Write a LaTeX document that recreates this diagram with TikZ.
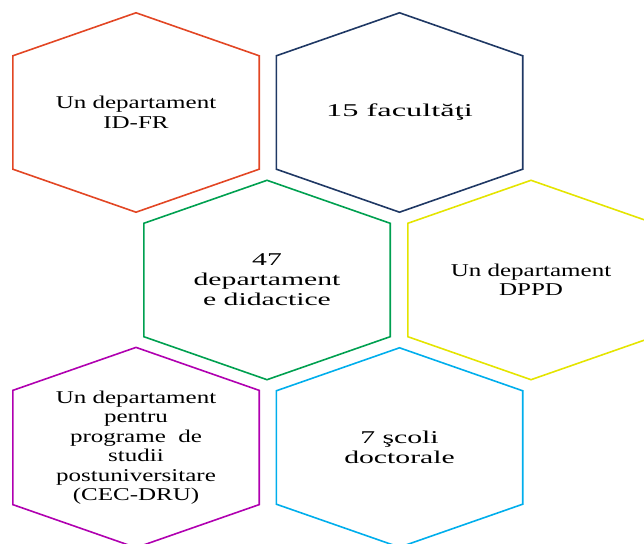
\documentclass[tikz,border=0pt]{standalone}
\usepackage{fontspec}
\setmainfont{Liberation Serif}[FakeStretch=1.39]
\newfontfamily\widefont{Liberation Serif}[FakeStretch=1.65]
\newfontfamily\widerfont{Liberation Serif}[FakeStretch=1.8]
\usetikzlibrary{positioning}

\definecolor{hexred}{RGB}{226,70,36}
\definecolor{hexnavy}{RGB}{31,56,100}
\definecolor{hexgreen}{RGB}{0,160,80}
\definecolor{hexyellow}{RGB}{228,228,0}
\definecolor{hexpurple}{RGB}{176,0,176}
\definecolor{hexcyan}{RGB}{0,174,236}

\begin{document}
\begin{tikzpicture}[
    x=1pt, y=1pt,
    hex/.style={
        rectangle,
        minimum width=246pt,
        minimum height=113pt,
        inner sep=0pt,
        align=center,
        font=\fontsize{18pt}{19.5pt}\selectfont
    },
    widehex/.style={
        hex,
        font=\widefont\fontsize{18pt}{20pt}\selectfont
    },
    hexline/.style={line width=1.6pt, line join=miter},
    node distance=167.5pt
]
    \useasboundingbox (0,0) rectangle (644,543);
    \clip (0,0) rectangle (644,543);

    % Top row
    \node[hex] (idfr) at (136,430.5) {Un departament \\ ID-FR};
    \node[widehex, font=\widerfont\fontsize{18pt}{20pt}\selectfont,
          right of=idfr, node distance=263.5pt] (facultati) {15 facultăţi};

    % Middle row, shifted half a cell to the right
    \node[widehex, below of=idfr, xshift=131pt] (didactice) {47 \\ departament \\ e didactice};
    \node[hex, right of=didactice, node distance=264pt] (dppd) {Un departament \\ DPPD};

    % Bottom row
    \node[hex, below of=didactice, xshift=-131pt] (cecdru)
        {Un departament \\ pentru \\ programe~ de \\ studii \\ postuniversitare \\ (CEC-DRU)};
    \node[widehex, right of=cecdru, node distance=263.5pt] (scoli) {7 şcoli \\ doctorale};

    % Hexagon outlines drawn round each node
    \foreach \n/\c in {idfr/hexred, facultati/hexnavy, didactice/hexgreen,
                       dppd/hexyellow, cecdru/hexpurple, scoli/hexcyan}
        \draw[hexline, \c] (\n.south west) -- (\n.north west)
            -- ([yshift=43pt]\n.north) -- (\n.north east)
            -- (\n.south east) -- ([yshift=-43pt]\n.south) -- cycle;

\end{tikzpicture}
\end{document}
